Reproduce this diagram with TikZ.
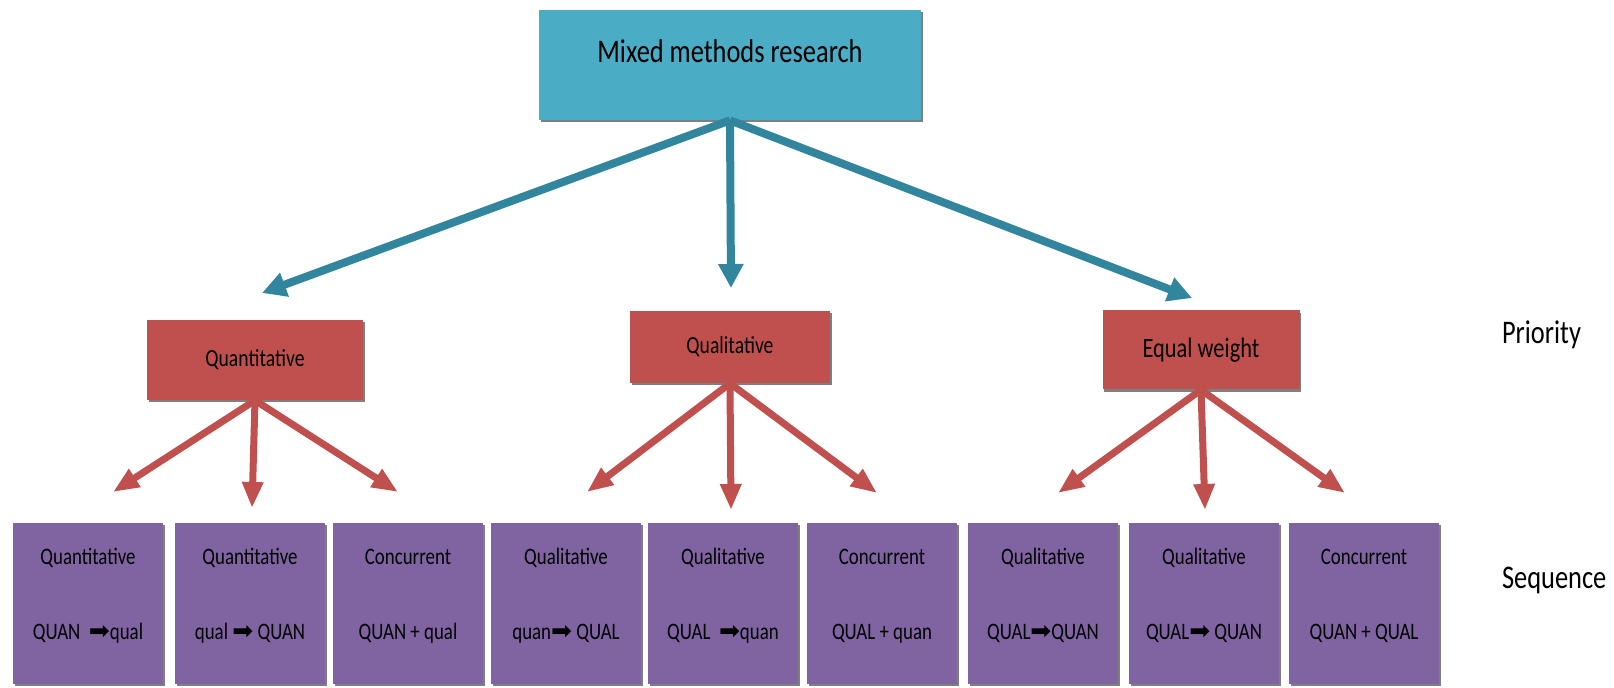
\documentclass[tikz,border=0pt]{standalone}
\usepackage{fontspec}
\setmainfont{Carlito}[FakeStretch=0.8]
\newfontfamily\arrowfont{DejaVu Sans}
\usepackage{xcolor}
\definecolor{mmblue}{HTML}{4BACC6}
\definecolor{mmteal}{HTML}{31859C}
\definecolor{mmred}{HTML}{C0504D}
\definecolor{mmpurple}{HTML}{8064A2}
\usetikzlibrary{arrows.meta, shadows}
\newcommand{\thenarrow}{{\arrowfont\fontsize{12.5}{12}\selectfont ➡}}

\begin{document}
\begin{tikzpicture}[x=0.5pt, y=-0.5pt,
    boxshadow/.style={drop shadow={shadow xshift=0.8pt, shadow yshift=-1.2pt,
                      fill=black, opacity=0.5}},
    mainbox/.style={boxshadow, fill=mmblue, minimum width=191pt, inner ysep=0pt,
                    text height=26.5pt, text depth=28.5pt,
                    font=\fontsize{16.5}{20}\selectfont},
    prioritybox/.style={boxshadow, fill=mmred, font=\fontsize{12.3}{15}\selectfont},
    seqbox/.style={boxshadow, fill=mmpurple, minimum width=75pt, align=center,
                   inner ysep=0pt, text height=58.5pt, text depth=22pt,
                   font=\fontsize{11.8}{37.5}\selectfont},
    sidelabel/.style={anchor=west, font=\fontsize{16.5}{20}\selectfont},
    bluearrow/.style={mmteal, line width=4pt, -{Triangle[width=12pt, length=12pt]}},
    redarrow/.style={mmred, line width=3.5pt, -{Triangle[width=10pt, length=13pt]}}]
  \useasboundingbox (0,0) rectangle (1614,688);

  % top level
  \node[mainbox] (mmr) at (730,65) {Mixed methods research};

  % priority
  \node[prioritybox, minimum width=108pt, minimum height=40pt] (quan) at (255,360) {Quantitative};
  \node[prioritybox, minimum width=100pt, minimum height=36pt] (qual) at (730,347) {Qualitative};
  \node[prioritybox, minimum width=98.5pt, minimum height=39.5pt,
        font=\fontsize{14}{17}\selectfont] (equal) at (1201,350) {Equal weight};

  % sequence
  \node[seqbox] (s1) at (88,603.5)   {Quantitative\\QUAN\ \ \thenarrow qual};
  \node[seqbox] (s2) at (250,603.5)  {Quantitative\\qual \thenarrow{} QUAN};
  \node[seqbox] (s3) at (408,603.5)  {Concurrent\\QUAN + qual};
  \node[seqbox] (s4) at (566,603.5)  {Qualitative\\quan\thenarrow{} QUAL};
  \node[seqbox] (s5) at (723,603.5)  {Qualitative\\QUAL\ \ \thenarrow quan};
  \node[seqbox] (s6) at (882,603.5)  {Concurrent\\QUAL + quan};
  \node[seqbox] (s7) at (1043,603.5) {Qualitative\\QUAL\thenarrow QUAN};
  \node[seqbox] (s8) at (1204,603.5) {Qualitative\\QUAL\thenarrow{} QUAN};
  \node[seqbox] (s9) at (1364,603.5) {Concurrent\\QUAN + QUAL};

  % row labels
  \node[sidelabel] (priority) at (1495,335) {Priority};
  \node[sidelabel] (sequence) at (1495,580) {Sequence};

  % arrow tips
  \coordinate (to-quan) at (262,293);
  \coordinate (to-qual) at (731,288);
  \coordinate (to-equal) at (1192,298);
  \coordinate (to-s1) at (113,492);
  \coordinate (to-s2) at (252,508);
  \coordinate (to-s3) at (398,492);
  \coordinate (to-s4) at (587,492);
  \coordinate (to-s5) at (731,510);
  \coordinate (to-s6) at (877,493);
  \coordinate (to-s7) at (1058,493);
  \coordinate (to-s8) at (1205,510);
  \coordinate (to-s9) at (1345,493);

  % connectors
  \draw[bluearrow] (mmr.south) -- (to-quan);
  \draw[bluearrow] (mmr.south) -- (to-qual);
  \draw[bluearrow] (mmr.south) -- (to-equal);
  \draw[redarrow] (quan.south) -- (to-s1);
  \draw[redarrow] (quan.south) -- (to-s2);
  \draw[redarrow] (quan.south) -- (to-s3);
  \draw[redarrow] (qual.south) -- (to-s4);
  \draw[redarrow] (qual.south) -- (to-s5);
  \draw[redarrow] (qual.south) -- (to-s6);
  \draw[redarrow] (equal.south) -- (to-s7);
  \draw[redarrow] (equal.south) -- (to-s8);
  \draw[redarrow] (equal.south) -- (to-s9);
\end{tikzpicture}
\end{document}
